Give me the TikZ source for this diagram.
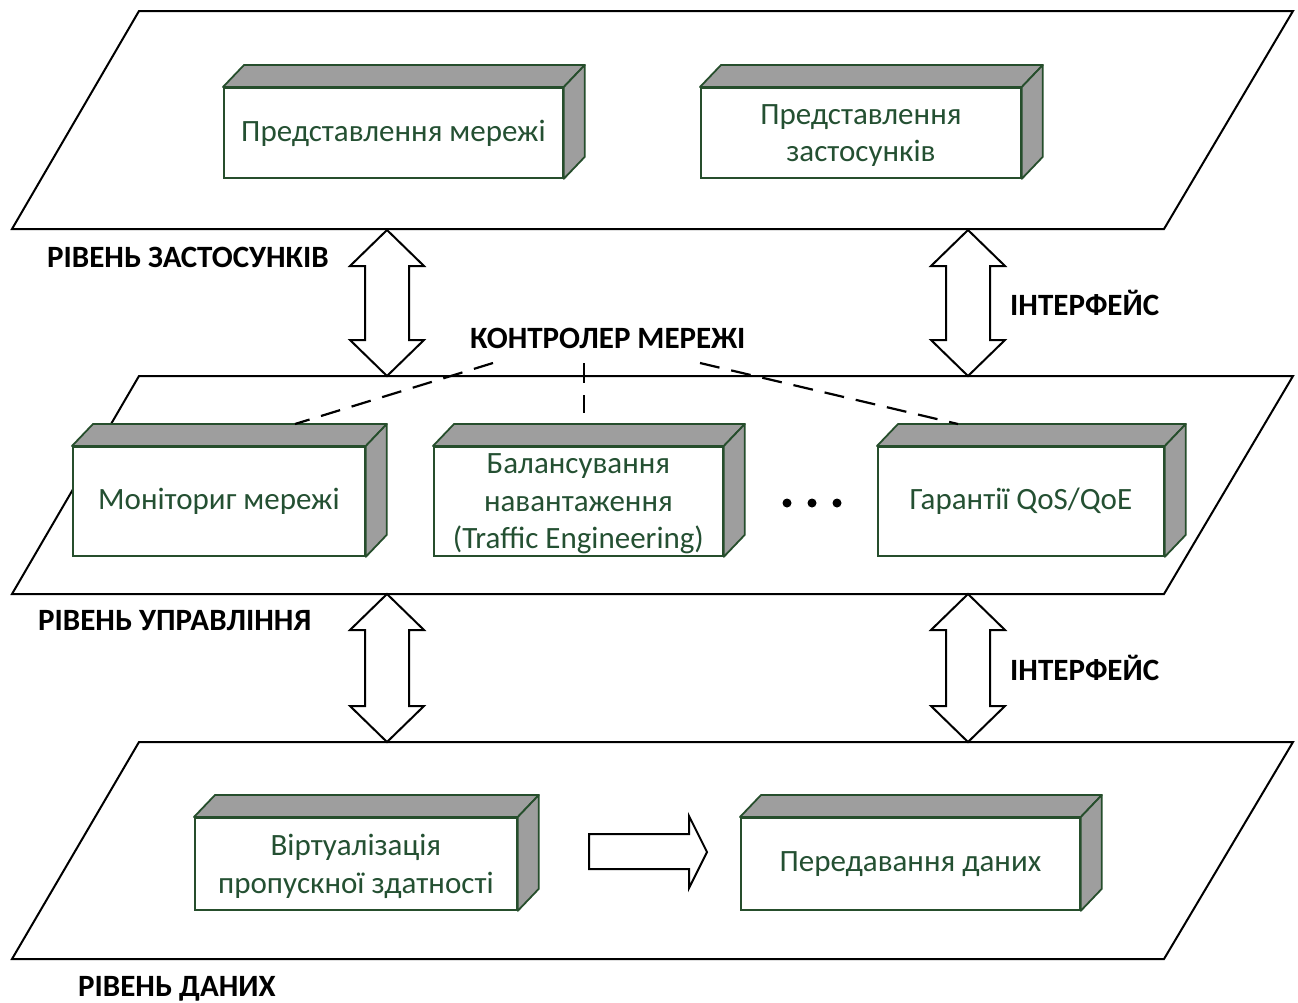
\documentclass[tikz,border=0pt]{standalone}
\usepackage{fontspec}
\setmainfont{Carlito}
\usetikzlibrary{calc}

\definecolor{txtgreen}{RGB}{36,80,50}
\definecolor{edgegreen}{RGB}{38,78,44}
\definecolor{facegray}{RGB}{158,158,158}

\tikzset{
  plane/.style={draw=black, line width=2pt, fill=white, line join=miter},
  boxfront/.style={draw=edgegreen, line width=1.8pt, fill=white, text=txtgreen,
    font=\fontsize{31}{37.5}\selectfont, align=center, inner sep=0pt, anchor=north west},
  multiline/.style={text depth=0pt},
  face/.style={draw=edgegreen, line width=1.8pt, fill=facegray, line join=round},
  blockarrow/.style={draw=black, line width=2pt, fill=white, line join=miter},
  lvl/.style={font=\bfseries\fontsize{31}{34}\selectfont, anchor=base west, inner sep=0pt},
  ctrlline/.style={dash pattern=on 20pt off 12pt, line width=2.2pt}
}

% front face as a named node, then the top and side faces behind it
\newcommand\solidbox[7][]{%
  \node[boxfront, #1, minimum width=#5pt, minimum height=#6pt] (#2) at (#3,#4) {#7};
  \draw[face] (#2.north west) -- ($(#2.north west)+(21,-22)$) -- ($(#2.north east)+(21,-22)$) -- (#2.north east) -- cycle;
  \draw[face] (#2.north east) -- ($(#2.north east)+(21,-22)$) -- ($(#2.south east)+(21,-22)$) -- (#2.south east) -- cycle;
}

% vertical two-headed block arrow centred on x=#1, from y=#2 down to y=#3
\newcommand\layerlink[3]{%
  \draw[blockarrow] (#1,#2) -- ++(37,36) -- ++(-15,0) -- (#1+22,#3-36) -- ++(15,0) -- (#1,#3)
    -- ++(-37,-36) -- ++(15,0) -- (#1-22,#2+36) -- ++(-15,0) -- cycle;
}

\begin{document}
\begin{tikzpicture}[x=1pt, y=-1pt]
\useasboundingbox (0,0) rectangle (1298,1002);

% three layers
\draw[plane] (139,11)  -- (1293,11)  -- (1164,229) -- (12,229) -- cycle;
\draw[plane] (139,376) -- (1293,376) -- (1164,594) -- (12,594) -- cycle;
\draw[plane] (139,742) -- (1293,742) -- (1164,959) -- (12,959) -- cycle;

% application layer
\solidbox{appnet}{223}{87}{339}{90}{Представлення мережі}
\solidbox[multiline]{appapp}{700}{87}{320}{90}{Представлення\\застосунків}

% control layer
\solidbox{monitor}{72}{446}{292}{109}{Моніториг мережі}
\solidbox[multiline]{balance}{433}{446}{289}{109}{\fontsize{31}{36.5}\selectfont Балансування\\навантаження\\(Traffic Engineering)}
\solidbox{qos}{877}{446}{286}{109}{Гарантії QoS/QoE}

% data layer
\solidbox[multiline]{virt}{194}{817}{322}{92}{Віртуалізація\\пропускної здатності}
\solidbox{transfer}{740}{817}{339}{92}{Передавання даних}

% interfaces between layers
\layerlink{387}{230}{376}
\layerlink{968}{230}{376}
\layerlink{387}{594}{742}
\layerlink{968}{594}{742}

% data flow inside the data layer
\draw[blockarrow] (589,834) -- (689,834) -- (689,816) -- (707,852) -- (689,888)
  -- (689,869) -- (589,869) -- cycle;

% more functions
\foreach \px in {787,812,837} \fill (\px,503) circle (4.5pt);

% labels
\node[lvl] (lapp)  at (47,267)   {РІВЕНЬ ЗАСТОСУНКІВ};
\node[lvl] (if1)   at (1010,315) {ІНТЕРФЕЙС};
\node[lvl] (ctrl)  at (470,348)  {КОНТРОЛЕР МЕРЕЖІ};
\node[lvl] (lctl)  at (38,630)   {РІВЕНЬ УПРАВЛІННЯ};
\node[lvl] (if2)   at (1010,680) {ІНТЕРФЕЙС};
\node[lvl] (ldata) at (78,996)   {РІВЕНЬ ДАНИХ};

% controller links
\coordinate (c1) at ($(ctrl.base west)+(23,15)$);
\coordinate (c2) at ($(ctrl.base west)+(114,15)$);
\coordinate (c3) at ($(ctrl.base west)+(230,15)$);
\draw[ctrlline] (c1) -- ($(monitor.north west)+(223,-22)$);
\draw[ctrlline] (c2) -- ($(balance.north west)+(151,-33)$);
\draw[ctrlline] (c3) -- ($(qos.north west)+(81,-22)$);
\end{tikzpicture}
\end{document}
